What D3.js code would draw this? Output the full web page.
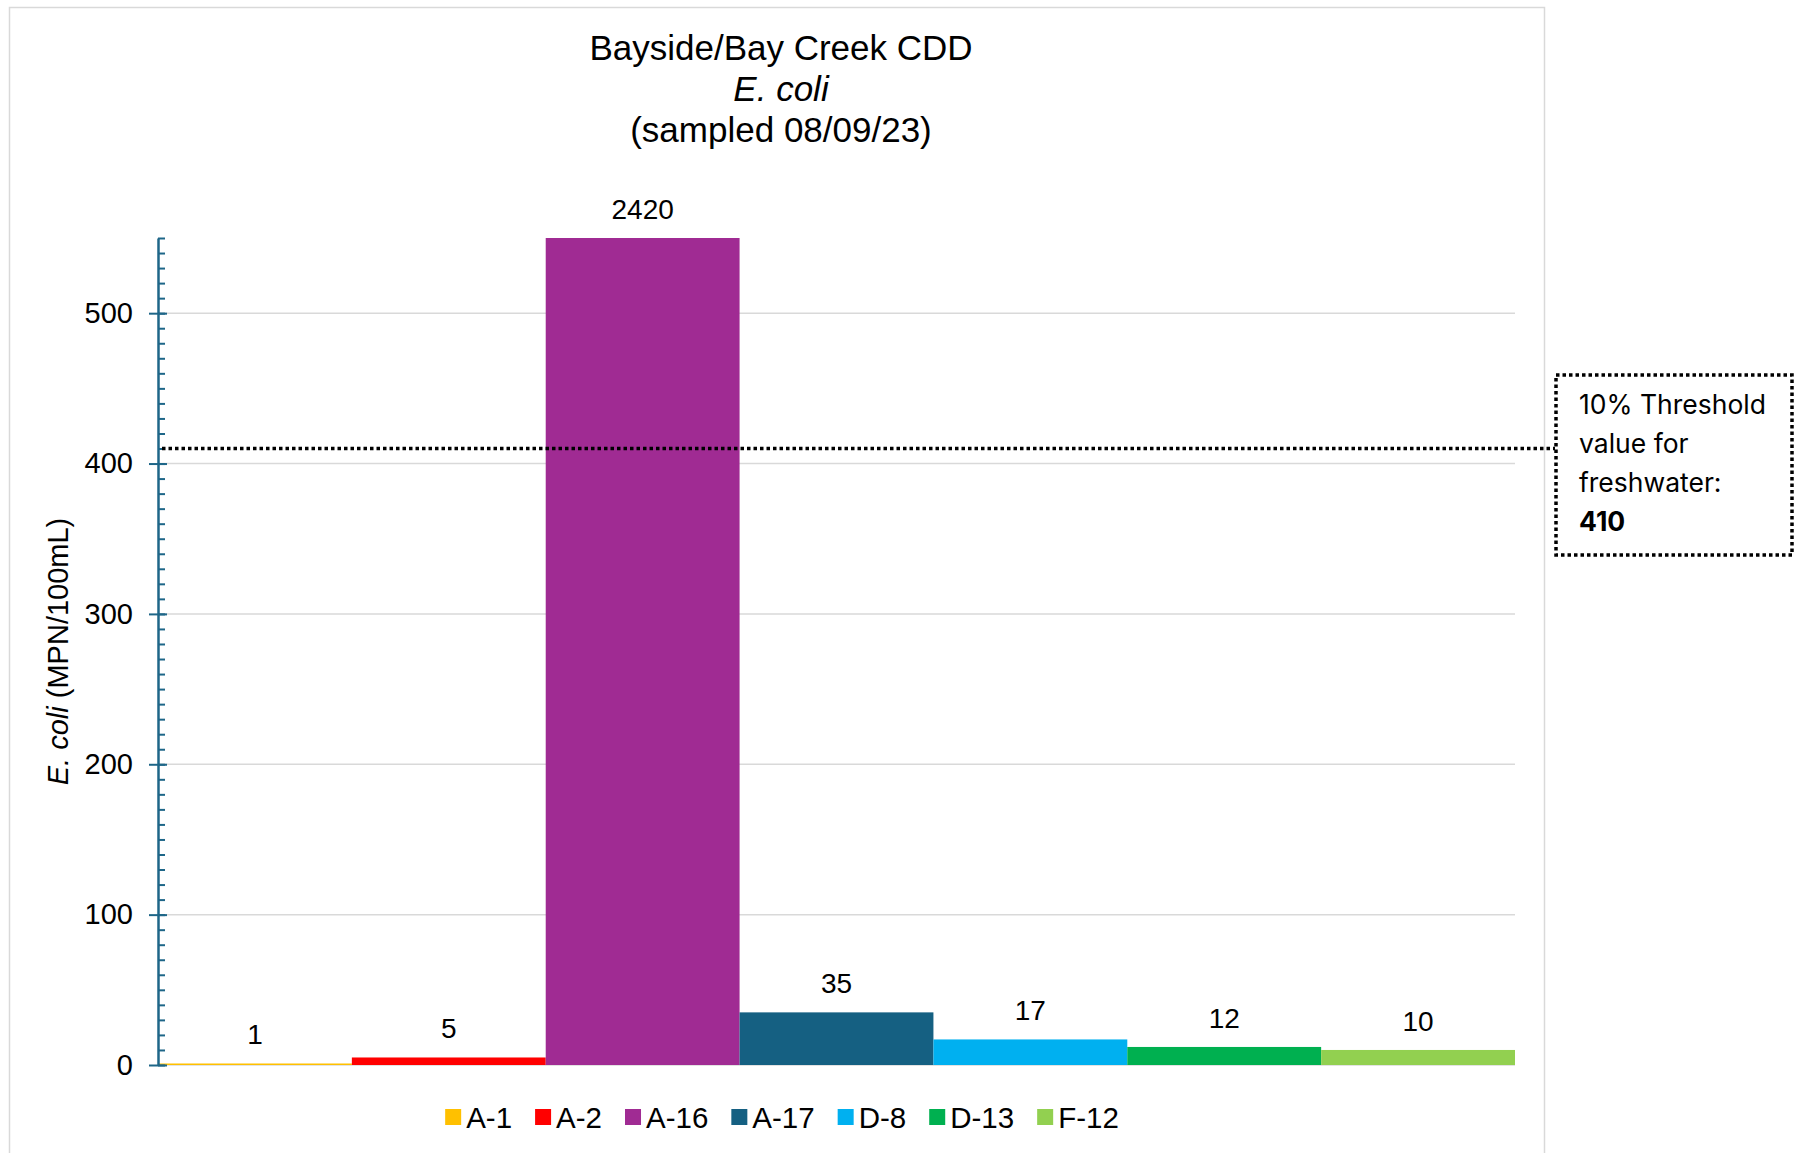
<!DOCTYPE html>
<html>
<head>
<meta charset="utf-8">
<script src="https://cdn.jsdelivr.net/npm/d3@7"></script>
<style>
  html, body { margin: 0; padding: 0; background: #fff; }
  svg { display: block; font-family: "Liberation Sans", Arial, sans-serif; }
</style>
</head>
<body>
<div id="root"></div>
<script>
const width = 1796;
const height = 1153;

// data
const sites = ["A-1", "A-2", "A-16", "A-17", "D-8", "D-13", "F-12"];
const ecoli = [1, 5, 2420, 35, 17, 12, 10];
const colors = ["#ffc000", "#ff0000", "#a02b93", "#156082", "#00b0f0", "#00b050", "#92d050"];
const majorTicks = [0, 100, 200, 300, 400, 500];
const yMax = 550;
const threshold = 410;
const titleLines = ["Bayside/Bay Creek CDD", "E. coli", "(sampled 08/09/23)"];
const noteLines = ["10% Threshold", "value for", "freshwater:", "410"];

const plot = { left: 158, right: 1515, top: 238, bottom: 1065 };
const axisColor = "#1e6688";

const x = d3.scaleBand().domain(sites).range([plot.left, plot.right]).padding(0);
const y = d3.scaleLinear().domain([0, yMax]).range([plot.bottom, plot.top]);

const svg = d3.select("#root")
    .append("svg")
    .attr("width", width)
    .attr("height", height);

// chart area border
svg.append("rect")
    .attr("x", 9.5).attr("y", 7.5)
    .attr("width", 1535).attr("height", 1200)
    .attr("fill", "#fff")
    .attr("stroke", "#d9d9d9")
    .attr("stroke-width", 1.5);

// title
const title = svg.append("text")
    .attr("text-anchor", "middle")
    .attr("font-size", 35)
    .attr("fill", "#000");
titleLines.forEach((t, i) => {
    title.append("tspan")
        .attr("x", 781)
        .attr("y", 60 + i * 41)
        .attr("font-style", i === 1 ? "italic" : "normal")
        .text(t);
});

// gridlines
svg.append("g")
    .selectAll("line")
    .data(majorTicks)
    .enter().append("line")
        .attr("x1", plot.left)
        .attr("x2", plot.right)
        .attr("y1", d => y(d))
        .attr("y2", d => y(d))
        .attr("stroke", "#d9d9d9")
        .attr("stroke-width", 1.5);

// bars (A-16 runs past the axis max, clip it there)
svg.append("g")
    .selectAll("rect")
    .data(sites)
    .enter().append("rect")
        .attr("x", d => x(d))
        .attr("width", x.bandwidth())
        .attr("y", (d, i) => y(Math.min(ecoli[i], yMax)))
        .attr("height", (d, i) => y(0) - y(Math.min(ecoli[i], yMax)))
        .attr("fill", (d, i) => colors[i]);

// data labels
svg.append("g")
    .selectAll("text")
    .data(sites)
    .enter().append("text")
        .attr("x", d => x(d) + x.bandwidth() / 2)
        .attr("y", (d, i) => y(Math.min(ecoli[i], yMax)) - 19)
        .attr("text-anchor", "middle")
        .attr("font-size", 28)
        .text((d, i) => ecoli[i]);

// y axis: major ticks cross the line, minor ticks inside
const yAxis = svg.append("g")
    .attr("transform", `translate(${plot.left},0)`)
    .call(d3.axisLeft(y).tickValues(majorTicks).tickSize(9).tickSizeOuter(0).tickPadding(16));

yAxis.selectAll(".tick line")
    .attr("x2", -9).attr("x1", 9);

svg.append("g")
    .attr("transform", `translate(${plot.left},0)`)
    .call(d3.axisRight(y).tickValues(d3.range(0, yMax + 1, 10)).tickSize(7).tickSizeOuter(0).tickFormat(""))
    .select(".domain").remove();

svg.selectAll(".tick line")
    .attr("stroke", axisColor)
    .attr("stroke-width", 2);
yAxis.select(".domain")
    .attr("stroke", axisColor)
    .attr("stroke-width", 2.5);
yAxis.selectAll(".tick text")
    .attr("font-size", 29)
    .attr("font-family", "Liberation Sans, Arial, sans-serif")
    .attr("fill", "#000");

// y axis title
const yTitle = svg.append("text")
    .attr("transform", `translate(68,${(plot.top + plot.bottom) / 2}) rotate(-90)`)
    .attr("text-anchor", "middle")
    .attr("font-size", 29);
yTitle.append("tspan").attr("font-style", "italic").text("E. coli");
yTitle.append("tspan").text(" (MPN/100mL)");

// threshold line and note box
svg.append("line")
    .attr("x1", plot.left + 4)
    .attr("x2", 1555)
    .attr("y1", y(threshold))
    .attr("y2", y(threshold))
    .attr("stroke", "#000")
    .attr("stroke-width", 3.5)
    .attr("stroke-dasharray", "3.5 3");

svg.append("rect")
    .attr("x", 1556).attr("y", 375)
    .attr("width", 236).attr("height", 180)
    .attr("fill", "none")
    .attr("stroke", "#000")
    .attr("stroke-width", 3.5)
    .attr("stroke-dasharray", "3.5 3");

const note = svg.append("text")
    .attr("font-family", "Inter, 'Open Sans', sans-serif")
    .attr("font-size", 26.5)
    .attr("fill", "#000");
noteLines.forEach((t, i) => {
    note.append("tspan")
        .attr("x", 1579)
        .attr("y", 414 + i * 39)
        .attr("font-weight", i === 3 ? "bold" : "normal")
        .text(t);
});

// legend, centred under the chart
const legend = svg.append("g").attr("font-size", 29.5);
const items = legend.selectAll("g")
    .data(sites)
    .enter().append("g");
items.append("rect")
    .attr("width", 16).attr("height", 16)
    .attr("y", 1109)
    .attr("fill", (d, i) => colors[i]);
items.append("text")
    .attr("x", 21)
    .attr("y", 1128)
    .text(d => d);

const gap = 23;
let cursor = 0;
items.each(function() {
    const w = this.getBBox().width;
    d3.select(this).attr("transform", `translate(${cursor},0)`);
    cursor += w + gap;
});
legend.attr("transform", `translate(${782 - (cursor - gap) / 2},0)`);
</script>
</body>
</html>
